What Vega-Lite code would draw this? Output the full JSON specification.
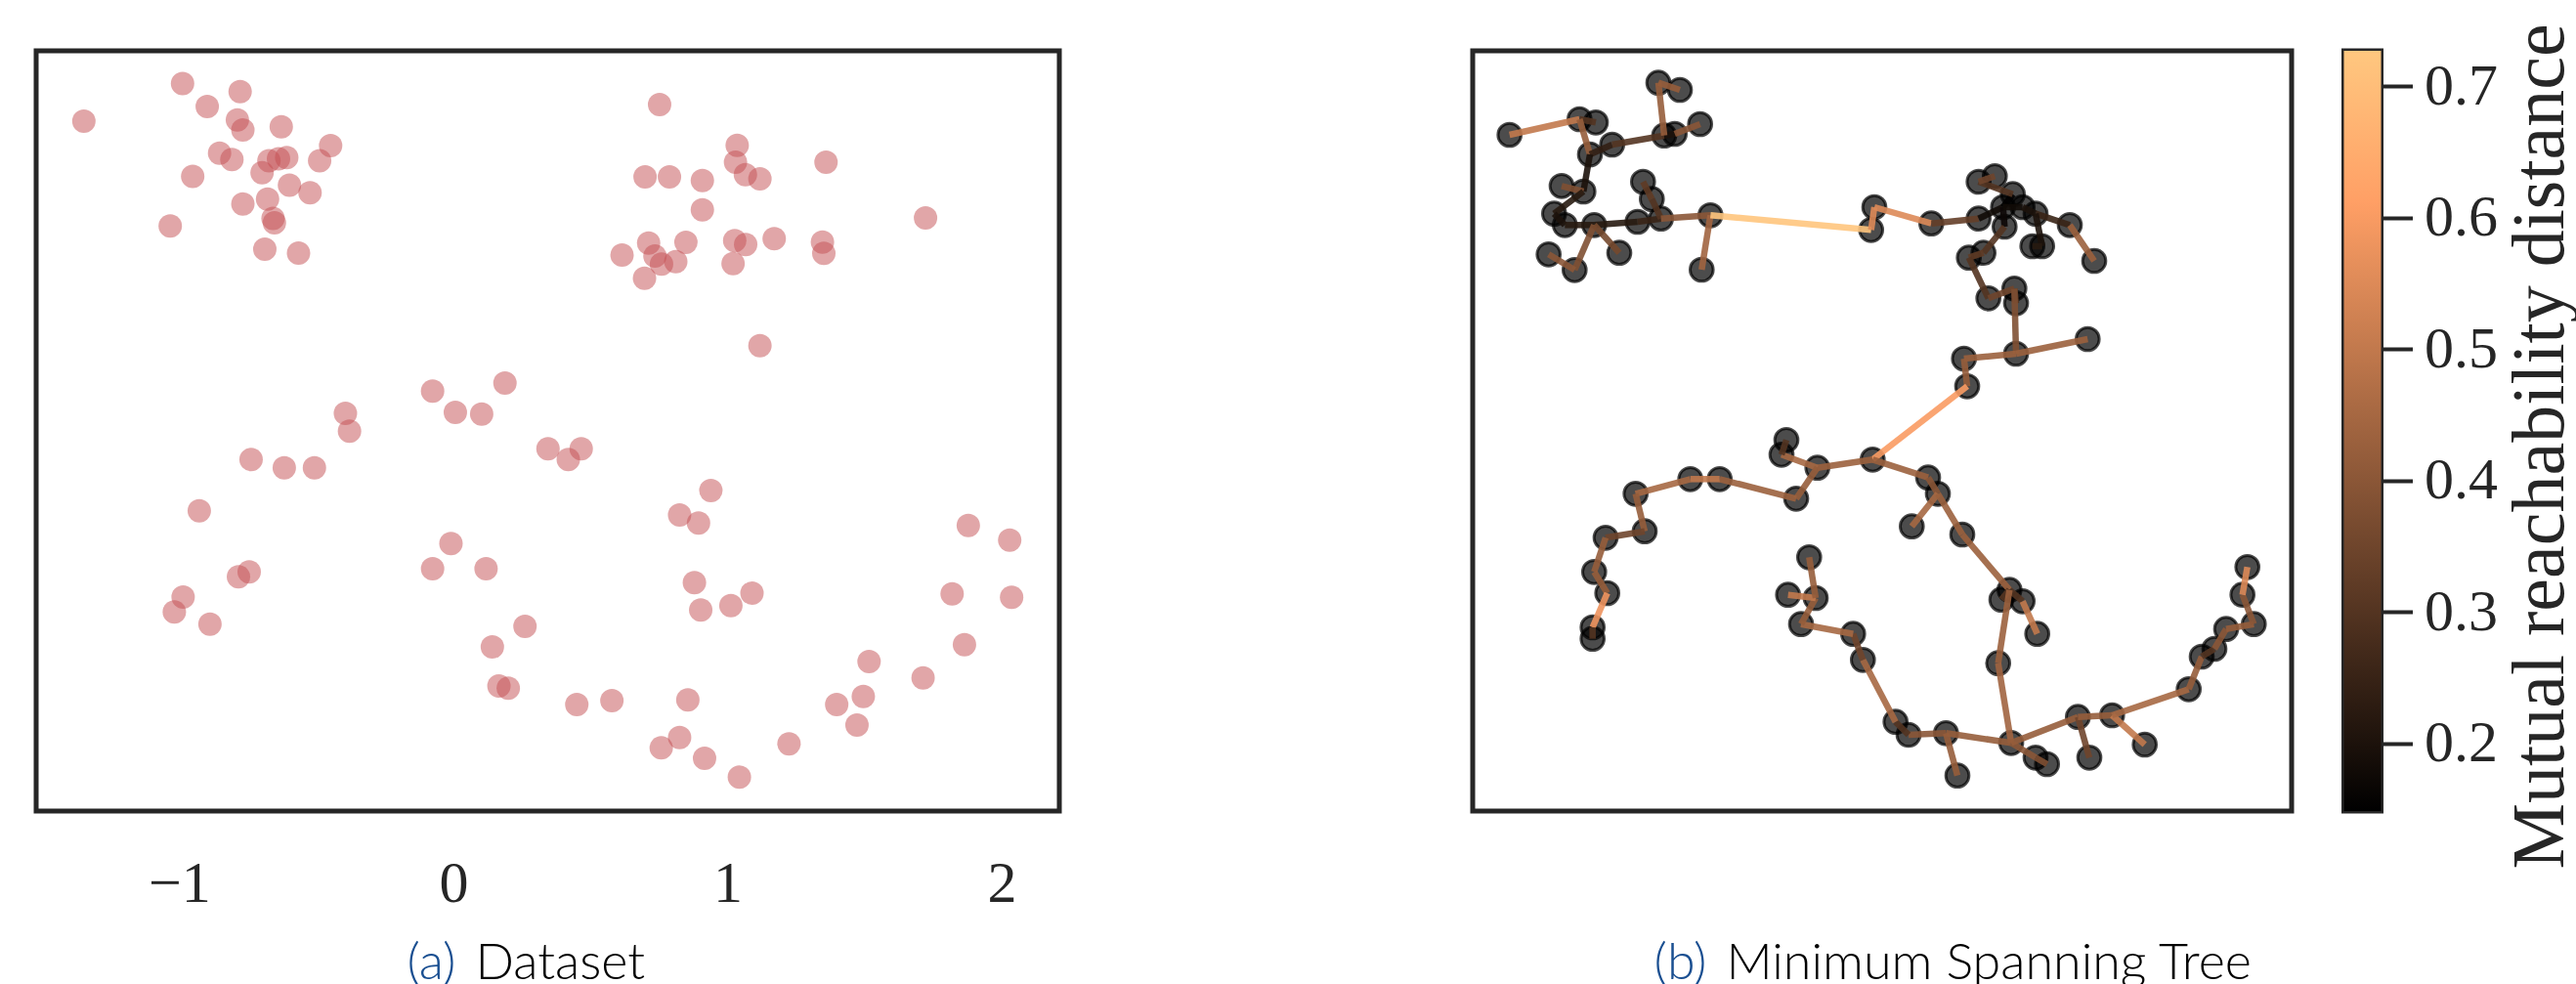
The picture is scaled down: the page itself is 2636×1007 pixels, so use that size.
{
  "$schema": "https://vega.github.io/schema/vega-lite/v6.json",
  "background": "white",
  "padding": {"left": 34, "top": 21, "right": 0, "bottom": 0},
  "config": {
    "view": {"stroke": "#262626", "strokeWidth": 5},
    "axis": {"grid": false}
  },
  "datasets": {
    "points": [
      {"x": -0.988, "y": 2.278}, {"x": -0.898, "y": 2.184}, {"x": -0.778, "y": 2.245}, {"x": -0.788, "y": 2.129},
      {"x": -0.768, "y": 2.088}, {"x": -0.628, "y": 2.101}, {"x": -0.448, "y": 2.024}, {"x": -0.488, "y": 1.962},
      {"x": -0.853, "y": 1.993}, {"x": -0.808, "y": 1.967}, {"x": -0.673, "y": 1.962}, {"x": -0.638, "y": 1.970},
      {"x": -0.608, "y": 1.975}, {"x": -0.698, "y": 1.913}, {"x": -0.951, "y": 1.898}, {"x": -0.598, "y": 1.862},
      {"x": -0.523, "y": 1.831}, {"x": -0.768, "y": 1.785}, {"x": -0.678, "y": 1.805}, {"x": -0.658, "y": 1.726},
      {"x": -0.653, "y": 1.708}, {"x": -1.033, "y": 1.695}, {"x": -0.688, "y": 1.600}, {"x": -0.565, "y": 1.584},
      {"x": -1.348, "y": 2.124},
      {"x": 0.752, "y": 2.192}, {"x": 1.035, "y": 2.025}, {"x": 1.029, "y": 1.956}, {"x": 1.065, "y": 1.905},
      {"x": 1.118, "y": 1.888}, {"x": 1.359, "y": 1.956}, {"x": 0.699, "y": 1.896}, {"x": 0.788, "y": 1.896},
      {"x": 0.908, "y": 1.881}, {"x": 0.908, "y": 1.761}, {"x": 1.722, "y": 1.728}, {"x": 0.615, "y": 1.576},
      {"x": 0.712, "y": 1.625}, {"x": 0.735, "y": 1.572}, {"x": 0.759, "y": 1.539}, {"x": 0.811, "y": 1.549},
      {"x": 0.848, "y": 1.628}, {"x": 0.697, "y": 1.481}, {"x": 1.026, "y": 1.635}, {"x": 1.066, "y": 1.619},
      {"x": 1.170, "y": 1.643}, {"x": 1.020, "y": 1.541}, {"x": 1.346, "y": 1.629}, {"x": 1.351, "y": 1.583},
      {"x": 1.118, "y": 1.205},
      {"x": -0.076, "y": 1.019}, {"x": 0.007, "y": 0.932}, {"x": 0.103, "y": 0.925}, {"x": 0.188, "y": 1.052},
      {"x": -0.394, "y": 0.928}, {"x": -0.379, "y": 0.855}, {"x": -0.738, "y": 0.739}, {"x": -0.617, "y": 0.705},
      {"x": -0.507, "y": 0.705}, {"x": -0.927, "y": 0.529}, {"x": -0.009, "y": 0.395}, {"x": -0.076, "y": 0.292},
      {"x": 0.119, "y": 0.292}, {"x": -0.745, "y": 0.279}, {"x": -0.784, "y": 0.259}, {"x": -0.986, "y": 0.176},
      {"x": -1.018, "y": 0.115}, {"x": -0.888, "y": 0.065}, {"x": 0.261, "y": 0.056}, {"x": 0.142, "y": -0.028},
      {"x": 0.166, "y": -0.188}, {"x": 0.200, "y": -0.197}, {"x": 0.345, "y": 0.783}, {"x": 0.466, "y": 0.783},
      {"x": 0.419, "y": 0.739}, {"x": 0.939, "y": 0.612}, {"x": 0.825, "y": 0.512}, {"x": 0.894, "y": 0.479},
      {"x": 1.878, "y": 0.469}, {"x": 2.029, "y": 0.409}, {"x": 0.879, "y": 0.235}, {"x": 0.902, "y": 0.123},
      {"x": 1.012, "y": 0.141}, {"x": 1.089, "y": 0.192}, {"x": 1.819, "y": 0.189}, {"x": 2.036, "y": 0.175},
      {"x": 1.864, "y": -0.019}, {"x": 1.516, "y": -0.088}, {"x": 1.713, "y": -0.155}, {"x": 1.495, "y": -0.231},
      {"x": 1.398, "y": -0.264}, {"x": 1.472, "y": -0.348}, {"x": 1.224, "y": -0.425}, {"x": 0.855, "y": -0.245},
      {"x": 0.578, "y": -0.248}, {"x": 0.450, "y": -0.264}, {"x": 0.825, "y": -0.399}, {"x": 0.758, "y": -0.441},
      {"x": 0.916, "y": -0.484}, {"x": 1.043, "y": -0.561}
    ],
    "nodes": [
      {"id": "A1", "x": 0.377, "y": 6.92}, {"id": "A2", "x": 1.093, "y": 7.08}, {"id": "A3", "x": 1.26, "y": 7.047},
      {"id": "A4", "x": 1.90, "y": 7.453}, {"id": "A5", "x": 2.12, "y": 7.38}, {"id": "A6", "x": 2.327, "y": 7.03},
      {"id": "A7", "x": 1.96, "y": 6.913}, {"id": "A8", "x": 2.067, "y": 6.93}, {"id": "A9", "x": 1.427, "y": 6.82},
      {"id": "A10", "x": 1.20, "y": 6.72}, {"id": "A11", "x": 0.91, "y": 6.397}, {"id": "A12", "x": 1.133, "y": 6.34},
      {"id": "A13", "x": 1.743, "y": 6.44}, {"id": "A14", "x": 1.833, "y": 6.263}, {"id": "A15", "x": 0.833, "y": 6.113},
      {"id": "A16", "x": 0.943, "y": 5.997}, {"id": "A17", "x": 1.243, "y": 5.997}, {"id": "A18", "x": 1.687, "y": 6.03},
      {"id": "A19", "x": 1.927, "y": 6.063}, {"id": "A20", "x": 2.433, "y": 6.097}, {"id": "A21", "x": 0.777, "y": 5.697},
      {"id": "A22", "x": 1.043, "y": 5.537}, {"id": "A23", "x": 1.50, "y": 5.713}, {"id": "A24", "x": 2.343, "y": 5.54},
      {"id": "B1", "x": 4.11, "y": 6.18}, {"id": "B2", "x": 4.077, "y": 5.947}, {"id": "B3", "x": 4.693, "y": 6.013},
      {"id": "B4", "x": 5.177, "y": 6.44}, {"id": "B5", "x": 5.343, "y": 6.497}, {"id": "B6", "x": 5.177, "y": 6.063},
      {"id": "B7", "x": 5.427, "y": 6.18}, {"id": "B8", "x": 5.443, "y": 5.98}, {"id": "B9", "x": 5.627, "y": 6.18},
      {"id": "B10", "x": 5.76, "y": 6.113}, {"id": "B11", "x": 5.727, "y": 5.78}, {"id": "B12", "x": 5.827, "y": 5.78},
      {"id": "B13", "x": 6.11, "y": 5.997}, {"id": "B14", "x": 6.36, "y": 5.63}, {"id": "B15", "x": 5.077, "y": 5.663},
      {"id": "B16", "x": 5.227, "y": 5.713}, {"id": "B17", "x": 5.277, "y": 5.247}, {"id": "B18", "x": 5.543, "y": 5.347},
      {"id": "B19", "x": 5.56, "y": 5.197}, {"id": "B20", "x": 5.56, "y": 4.68}, {"id": "B21", "x": 5.027, "y": 4.63},
      {"id": "B22", "x": 5.06, "y": 4.347}, {"id": "B23", "x": 6.293, "y": 4.83}, {"id": "B24", "x": 5.527, "y": 6.313},
      {"id": "J", "x": 4.093, "y": 3.597},
      {"id": "C1", "x": 1.227, "y": 1.763}, {"id": "C2", "x": 1.227, "y": 1.88}, {"id": "C3", "x": 1.377, "y": 2.23},
      {"id": "C4", "x": 1.243, "y": 2.447}, {"id": "C5", "x": 1.36, "y": 2.797}, {"id": "C6", "x": 1.76, "y": 2.863},
      {"id": "C7", "x": 1.667, "y": 3.247}, {"id": "C8", "x": 2.227, "y": 3.397}, {"id": "C9", "x": 2.527, "y": 3.397},
      {"id": "C10", "x": 3.31, "y": 3.197}, {"id": "C11", "x": 3.527, "y": 3.513}, {"id": "C12", "x": 3.21, "y": 3.797},
      {"id": "C13", "x": 3.16, "y": 3.647}, {"id": "C14", "x": 4.66, "y": 3.413}, {"id": "C15", "x": 4.76, "y": 3.247},
      {"id": "C16", "x": 4.493, "y": 2.913}, {"id": "C17", "x": 5.01, "y": 2.83}, {"id": "C18", "x": 5.493, "y": 2.263},
      {"id": "C19", "x": 5.627, "y": 2.147}, {"id": "C20", "x": 5.41, "y": 2.163}, {"id": "C21", "x": 5.777, "y": 1.813},
      {"id": "C22", "x": 5.377, "y": 1.513},
      {"id": "D1", "x": 3.443, "y": 2.597}, {"id": "D2", "x": 3.51, "y": 2.18}, {"id": "D3", "x": 3.227, "y": 2.213},
      {"id": "D4", "x": 3.36, "y": 1.913}, {"id": "D5", "x": 3.893, "y": 1.813}, {"id": "D6", "x": 3.993, "y": 1.547},
      {"id": "D7", "x": 4.327, "y": 0.913}, {"id": "D8", "x": 4.46, "y": 0.78}, {"id": "D9", "x": 4.843, "y": 0.797},
      {"id": "D10", "x": 4.96, "y": 0.363}, {"id": "D11", "x": 5.51, "y": 0.697}, {"id": "D12", "x": 5.76, "y": 0.547},
      {"id": "D13", "x": 5.877, "y": 0.48}, {"id": "D14", "x": 6.193, "y": 0.963}, {"id": "D15", "x": 6.31, "y": 0.547},
      {"id": "D16", "x": 6.543, "y": 0.98}, {"id": "D17", "x": 6.877, "y": 0.68}, {"id": "D18", "x": 7.327, "y": 1.247},
      {"id": "D19", "x": 7.46, "y": 1.58}, {"id": "D20", "x": 7.59, "y": 1.66}, {"id": "D21", "x": 7.71, "y": 1.863},
      {"id": "D22", "x": 7.993, "y": 1.913}, {"id": "D23", "x": 7.877, "y": 2.213}, {"id": "D24", "x": 7.927, "y": 2.497}
    ],
    "edges": [
      {"s": "A1", "t": "A2", "d": 0.50}, {"s": "A2", "t": "A3", "d": 0.30}, {"s": "A2", "t": "A10", "d": 0.42},
      {"s": "A10", "t": "A9", "d": 0.24}, {"s": "A9", "t": "A7", "d": 0.30}, {"s": "A7", "t": "A8", "d": 0.20},
      {"s": "A7", "t": "A4", "d": 0.42}, {"s": "A4", "t": "A5", "d": 0.42}, {"s": "A8", "t": "A6", "d": 0.40},
      {"s": "A10", "t": "A12", "d": 0.20}, {"s": "A12", "t": "A11", "d": 0.38}, {"s": "A12", "t": "A15", "d": 0.22},
      {"s": "A15", "t": "A16", "d": 0.20}, {"s": "A16", "t": "A17", "d": 0.22}, {"s": "A17", "t": "A18", "d": 0.22},
      {"s": "A18", "t": "A19", "d": 0.25}, {"s": "A19", "t": "A14", "d": 0.30}, {"s": "A14", "t": "A13", "d": 0.32},
      {"s": "A19", "t": "A20", "d": 0.40}, {"s": "A20", "t": "A24", "d": 0.44}, {"s": "A17", "t": "A22", "d": 0.38},
      {"s": "A22", "t": "A21", "d": 0.40}, {"s": "A17", "t": "A23", "d": 0.36}, {"s": "A20", "t": "B2", "d": 0.72},
      {"s": "B2", "t": "B1", "d": 0.55}, {"s": "B1", "t": "B3", "d": 0.55}, {"s": "B3", "t": "B6", "d": 0.33},
      {"s": "B6", "t": "B7", "d": 0.18}, {"s": "B7", "t": "B24", "d": 0.15}, {"s": "B24", "t": "B4", "d": 0.30},
      {"s": "B4", "t": "B5", "d": 0.35}, {"s": "B7", "t": "B8", "d": 0.17}, {"s": "B7", "t": "B9", "d": 0.18},
      {"s": "B9", "t": "B10", "d": 0.20}, {"s": "B10", "t": "B13", "d": 0.25}, {"s": "B13", "t": "B14", "d": 0.43},
      {"s": "B10", "t": "B12", "d": 0.20}, {"s": "B12", "t": "B11", "d": 0.22}, {"s": "B8", "t": "B16", "d": 0.30},
      {"s": "B16", "t": "B15", "d": 0.32}, {"s": "B15", "t": "B17", "d": 0.30}, {"s": "B17", "t": "B18", "d": 0.35},
      {"s": "B18", "t": "B19", "d": 0.30}, {"s": "B18", "t": "B20", "d": 0.38}, {"s": "B20", "t": "B23", "d": 0.43},
      {"s": "B20", "t": "B21", "d": 0.43}, {"s": "B21", "t": "B22", "d": 0.42}, {"s": "B22", "t": "J", "d": 0.60},
      {"s": "J", "t": "C11", "d": 0.43}, {"s": "C11", "t": "C13", "d": 0.45}, {"s": "C13", "t": "C12", "d": 0.30},
      {"s": "C11", "t": "C10", "d": 0.42}, {"s": "C10", "t": "C9", "d": 0.43}, {"s": "C9", "t": "C8", "d": 0.50},
      {"s": "C8", "t": "C7", "d": 0.45}, {"s": "C7", "t": "C6", "d": 0.42}, {"s": "C6", "t": "C5", "d": 0.35},
      {"s": "C5", "t": "C4", "d": 0.42}, {"s": "C4", "t": "C3", "d": 0.42}, {"s": "C3", "t": "C2", "d": 0.58},
      {"s": "C2", "t": "C1", "d": 0.30}, {"s": "J", "t": "C14", "d": 0.43}, {"s": "C14", "t": "C15", "d": 0.40},
      {"s": "C15", "t": "C16", "d": 0.45}, {"s": "C15", "t": "C17", "d": 0.43}, {"s": "C17", "t": "C18", "d": 0.43},
      {"s": "C18", "t": "C20", "d": 0.30}, {"s": "C18", "t": "C19", "d": 0.30}, {"s": "C19", "t": "C21", "d": 0.50},
      {"s": "C18", "t": "C22", "d": 0.43}, {"s": "C22", "t": "D11", "d": 0.44},
      {"s": "D11", "t": "D9", "d": 0.42}, {"s": "D9", "t": "D8", "d": 0.40}, {"s": "D8", "t": "D7", "d": 0.30},
      {"s": "D9", "t": "D10", "d": 0.42}, {"s": "D7", "t": "D6", "d": 0.45}, {"s": "D6", "t": "D5", "d": 0.35},
      {"s": "D5", "t": "D4", "d": 0.45}, {"s": "D4", "t": "D2", "d": 0.42}, {"s": "D2", "t": "D3", "d": 0.50},
      {"s": "D2", "t": "D1", "d": 0.42}, {"s": "D11", "t": "D12", "d": 0.40}, {"s": "D12", "t": "D13", "d": 0.38},
      {"s": "D11", "t": "D14", "d": 0.42}, {"s": "D14", "t": "D15", "d": 0.35}, {"s": "D14", "t": "D16", "d": 0.42},
      {"s": "D16", "t": "D17", "d": 0.50}, {"s": "D16", "t": "D18", "d": 0.45}, {"s": "D18", "t": "D19", "d": 0.42},
      {"s": "D19", "t": "D20", "d": 0.30}, {"s": "D20", "t": "D21", "d": 0.40}, {"s": "D21", "t": "D22", "d": 0.42},
      {"s": "D22", "t": "D23", "d": 0.40}, {"s": "D23", "t": "D24", "d": 0.55}
    ]
  },
  "bounds": "flush",
  "spacing": 423,
  "hconcat": [
    {
      "width": 1047,
      "height": 778,
      "layer": [
        {
          "data": {"name": "points"},
          "mark": {"type": "circle", "size": 575, "color": "#c44e52", "opacity": 0.5},
          "encoding": {
            "x": {
              "field": "x", "type": "quantitative",
              "scale": {"domain": [-1.522, 2.21], "nice": false, "zero": false},
              "axis": {
                "values": [-1, 0, 1, 2], "format": "d", "ticks": false, "domain": false, "grid": false,
                "labelFont": "Liberation Serif", "labelFontSize": 60, "labelColor": "#262626",
                "labelPadding": 45, "labelFlush": false, "title": null
              }
            },
            "y": {
              "field": "y", "type": "quantitative",
              "scale": {"domain": [-0.7, 2.412], "nice": false, "zero": false},
              "axis": null
            }
          }
        },
        {
          "data": {"values": [{"part": "(a)"}]},
          "mark": {"type": "text", "align": "right", "baseline": "alphabetic", "dx": -10, "font": "Lato", "fontSize": 52, "fontWeight": 300, "color": "#1a4f91"},
          "encoding": {"text": {"field": "part"}, "x": {"datum": 0.0446}, "y": {"datum": -1.388}}
        },
        {
          "data": {"values": [{"part": "Dataset"}]},
          "mark": {"type": "text", "align": "left", "baseline": "alphabetic", "dx": 10, "font": "Lato", "fontSize": 52, "fontWeight": 300, "color": "#000000"},
          "encoding": {"text": {"field": "part"}, "x": {"datum": 0.0446}, "y": {"datum": -1.388}}
        }
      ]
    },
    {
      "bounds": "flush",
      "spacing": 53.5,
      "hconcat": [
        {
          "width": 838,
          "height": 778,
          "layer": [
            {
              "data": {"name": "nodes"},
              "mark": {"type": "point", "shape": "circle", "filled": true, "size": 560, "fill": "#000000", "fillOpacity": 0.7, "stroke": "#000000", "strokeOpacity": 0.7, "strokeWidth": 3},
              "encoding": {
                "x": {"field": "x", "type": "quantitative", "scale": {"domain": [0, 8.38], "nice": false, "zero": false}, "axis": null},
                "y": {"field": "y", "type": "quantitative", "scale": {"domain": [0, 7.78], "nice": false, "zero": false}, "axis": null}
              }
            },
            {
              "data": {"name": "edges"},
              "transform": [
                {"lookup": "s", "from": {"data": {"name": "nodes"}, "key": "id", "fields": ["x", "y"]}, "as": ["x1", "y1"]},
                {"lookup": "t", "from": {"data": {"name": "nodes"}, "key": "id", "fields": ["x", "y"]}, "as": ["x2", "y2"]}
              ],
              "mark": {"type": "rule", "strokeWidth": 6.5, "opacity": 0.9},
              "encoding": {
                "x": {"field": "x1", "type": "quantitative"},
                "y": {"field": "y1", "type": "quantitative"},
                "x2": {"field": "x2"},
                "y2": {"field": "y2"},
                "color": {
                  "field": "d", "type": "quantitative",
                  "scale": {"domain": [0.1486, 0.6111, 0.7268], "range": ["#000000", "#ff9f65", "#ffc77f"], "interpolate": "rgb"},
                  "legend": null
                }
              }
            },
            {
              "data": {"values": [{"part": "(b)"}]},
              "mark": {"type": "text", "align": "right", "baseline": "alphabetic", "dx": -10, "font": "Lato", "fontSize": 52, "fontWeight": 300, "color": "#1a4f91"},
              "encoding": {"text": {"field": "part"}, "x": {"datum": 2.495}, "y": {"datum": -1.72}}
            },
            {
              "data": {"values": [{"part": "Minimum Spanning Tree"}]},
              "mark": {"type": "text", "align": "left", "baseline": "alphabetic", "dx": 10, "font": "Lato", "fontSize": 52, "fontWeight": 300, "color": "#000000"},
              "encoding": {"text": {"field": "part"}, "x": {"datum": 2.495}, "y": {"datum": -1.72}}
            }
          ]
        },
        {
          "width": 38,
          "height": 778,
          "data": {"values": [{"lo": 0.1486, "hi": 0.7268}]},
          "mark": {
            "type": "rect",
            "color": {
              "gradient": "linear", "x1": 0, "y1": 1, "x2": 0, "y2": 0,
              "stops": [
                {"offset": 0, "color": "#000000"},
                {"offset": 0.8, "color": "#ff9f65"},
                {"offset": 1, "color": "#ffc77f"}
              ]
            }
          },
          "encoding": {
            "y": {
              "field": "lo", "type": "quantitative",
              "scale": {"domain": [0.1486, 0.7268], "nice": false, "zero": false},
              "axis": {
                "orient": "right", "values": [0.2, 0.3, 0.4, 0.5, 0.6, 0.7], "format": ".1f",
                "tickSize": 32, "tickWidth": 4, "tickColor": "#262626", "domain": false, "grid": false,
                "labelFont": "Liberation Serif", "labelFontSize": 60, "labelColor": "#262626", "labelPadding": 12,
                "labelBaseline": "middle", "labelFlush": false,
                "title": "Mutual reachability distance", "titleFont": "Liberation Serif", "titleFontSize": 76,
                "titleFontWeight": "normal", "titleColor": "#262626", "titleAngle": 270, "titleAlign": "left",
                "titleBaseline": "alphabetic", "titleX": 186, "titleY": 837
              }
            },
            "y2": {"field": "hi"}
          }
        }
      ]
    }
  ]
}
